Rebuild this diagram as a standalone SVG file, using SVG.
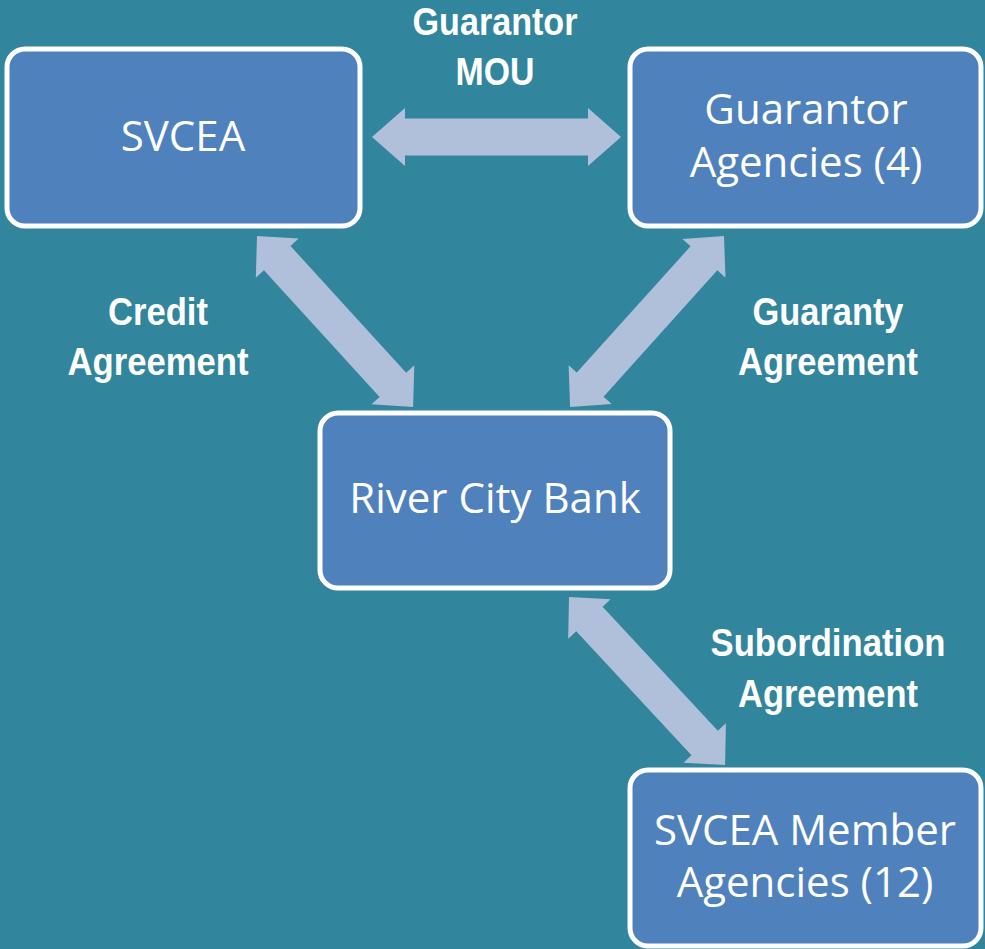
<svg xmlns="http://www.w3.org/2000/svg" width="985" height="949" viewBox="0 0 985 949">
  <style>
    .box { fill: #4F81BD; stroke: #FFFFFF; stroke-width: 5; }
    .node-text { font-family: "Open Sans", "Noto Sans", sans-serif; font-size: 42px; fill: #FFFFFF; text-anchor: middle; }
    .label { font-family: "Liberation Sans", Arial, sans-serif; font-weight: bold; font-size: 38px; fill: #FFFFFF; text-anchor: middle; }
    .arrow { fill: #B0C0DA; }
  </style>
  <rect width="985" height="949" fill="#31859C"/>

  <!-- double-headed connectors -->
  <g id="connectors">
    <polygon class="arrow" transform="translate(372,137)" points="0,0 33,-29 33,-18.5 216,-18.5 216,-29 249,0 216,29 216,18.5 33,18.5 33,29"/>
    <polygon class="arrow" transform="translate(257,236) rotate(47.6)" points="0,0 30,-29 30,-18 201.5,-18 201.5,-29 231.5,0 201.5,29 201.5,18 30,18 30,29"/>
    <polygon class="arrow" transform="translate(724,236) rotate(132)" points="0,0 30,-29 30,-18 200,-18 200,-29 230,0 200,29 200,18 30,18 30,29"/>
    <polygon class="arrow" transform="translate(569,597) rotate(47.1)" points="0,0 30,-29 30,-18 199.3,-18 199.3,-29 229.3,0 199.3,29 199.3,18 30,18 30,29"/>
  </g>

  <!-- connector labels (condensed to the narrow face widths) -->
  <g id="labels">
    <text class="label" x="495" y="35" textLength="165" lengthAdjust="spacingAndGlyphs">Guarantor</text>
    <text class="label" x="495" y="85" textLength="79" lengthAdjust="spacingAndGlyphs">MOU</text>
    <text class="label" x="158" y="325" textLength="100" lengthAdjust="spacingAndGlyphs">Credit</text>
    <text class="label" x="158" y="375" textLength="181" lengthAdjust="spacingAndGlyphs">Agreement</text>
    <text class="label" x="828" y="325" textLength="151" lengthAdjust="spacingAndGlyphs">Guaranty</text>
    <text class="label" x="828" y="375" textLength="180" lengthAdjust="spacingAndGlyphs">Agreement</text>
    <text class="label" x="828" y="656" textLength="235" lengthAdjust="spacingAndGlyphs">Subordination</text>
    <text class="label" x="828" y="707" textLength="180" lengthAdjust="spacingAndGlyphs">Agreement</text>
  </g>

  <g id="svcea">
    <rect class="box" x="7" y="49" width="353" height="177" rx="18"/>
    <text class="node-text" x="183" y="151">SVCEA</text>
  </g>

  <g id="guarantor-agencies">
    <rect class="box" x="630" y="49" width="351" height="177" rx="18"/>
    <text class="node-text" x="806" y="124">Guarantor</text>
    <text class="node-text" x="806" y="177">Agencies (4)</text>
  </g>

  <g id="river-city-bank">
    <rect class="box" x="320" y="413" width="350" height="175" rx="18"/>
    <text class="node-text" x="495" y="513">River City Bank</text>
  </g>

  <g id="member-agencies">
    <rect class="box" x="630" y="770" width="351" height="176" rx="18"/>
    <text class="node-text" x="805" y="845">SVCEA Member</text>
    <text class="node-text" x="805" y="897">Agencies (12)</text>
  </g>
</svg>
